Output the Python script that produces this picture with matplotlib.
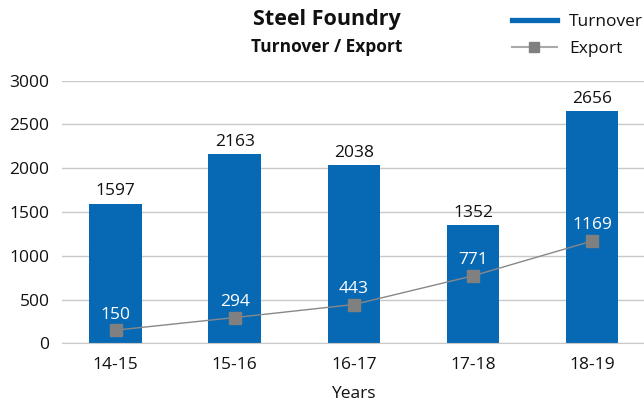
import matplotlib
matplotlib.use("Agg")
import matplotlib.pyplot as plt
from matplotlib.lines import Line2D
import numpy as np

plt.rcParams['font.family'] = ['Open Sans', 'DejaVu Sans']

years = ["14-15", "15-16", "16-17", "17-18", "18-19"]
turnover = [1597, 2163, 2038, 1352, 2656]
export = [150, 294, 443, 771, 1169]

bar_color = "#0769b4"
line_color = "#888888"
marker_color = "#808080"
grid_color = "#c9c9c9"
text_color = "#111111"

fig = plt.figure(figsize=(6.44, 4.01), dpi=100)
ax = fig.add_axes([62 / 644, 1 - 343.3 / 401, 1 - 62 / 644, (343.3 - 80.7) / 401])

x = np.arange(len(years))
ax.bar(x, turnover, width=0.44, color=bar_color, zorder=2)
ax.plot(x, export, color=line_color, lw=1.0, marker="s", markersize=8.5,
        markerfacecolor=marker_color, markeredgecolor=marker_color, zorder=3)

for xi, v in zip(x, turnover):
    ax.annotate(f"{v}", (xi, v), xytext=(0, 3), textcoords="offset points",
                ha="center", va="bottom", fontsize=12.5, color=text_color)
for xi, v in zip(x, export):
    ax.annotate(f"{v}", (xi, v), xytext=(0, 5.5), textcoords="offset points",
                ha="center", va="bottom", fontsize=12.5, color="white", zorder=4)

ax.set_xlim(-0.449, 4.434)
ax.set_ylim(0, 3000)
ax.set_yticks(range(0, 3001, 500))
ax.set_xticks(x)
ax.set_xticklabels(years)
ax.yaxis.grid(True, color=grid_color, lw=1.0, zorder=0)
ax.set_axisbelow(True)
for s in ["top", "right", "left"]:
    ax.spines[s].set_visible(False)
ax.spines["bottom"].set_color(grid_color)
ax.tick_params(axis="both", length=0, labelsize=12.5, colors=text_color)
ax.tick_params(axis="y", pad=9)
ax.tick_params(axis="x", pad=10)
ax.set_xlabel("Years", fontsize=12.5, color=text_color, labelpad=9.5)

fig.text(327 / 644, 1 - 20 / 401, "Steel Foundry", ha="center", va="center",
         fontsize=15.5, fontweight="bold", color=text_color)
fig.text(327 / 644, 1 - 47 / 401, "Turnover / Export", ha="center", va="center",
         fontsize=12.5, fontweight="bold", color=text_color)

handles = [
    Line2D([0], [0], color=bar_color, lw=3.8),
    Line2D([0], [0], color="#aaaaaa", lw=1.5, marker="s", markersize=7.5,
           markerfacecolor=marker_color, markeredgecolor=marker_color),
]
fig.legend(handles, ["Turnover", "Export"], loc="upper left",
           bbox_to_anchor=(496 / 644, 1 + 2 / 401), frameon=False,
           fontsize=12.5, handlelength=2.6, handletextpad=0.7, labelspacing=0.62,
           labelcolor=text_color)

fig.savefig("out.png", dpi=100)
